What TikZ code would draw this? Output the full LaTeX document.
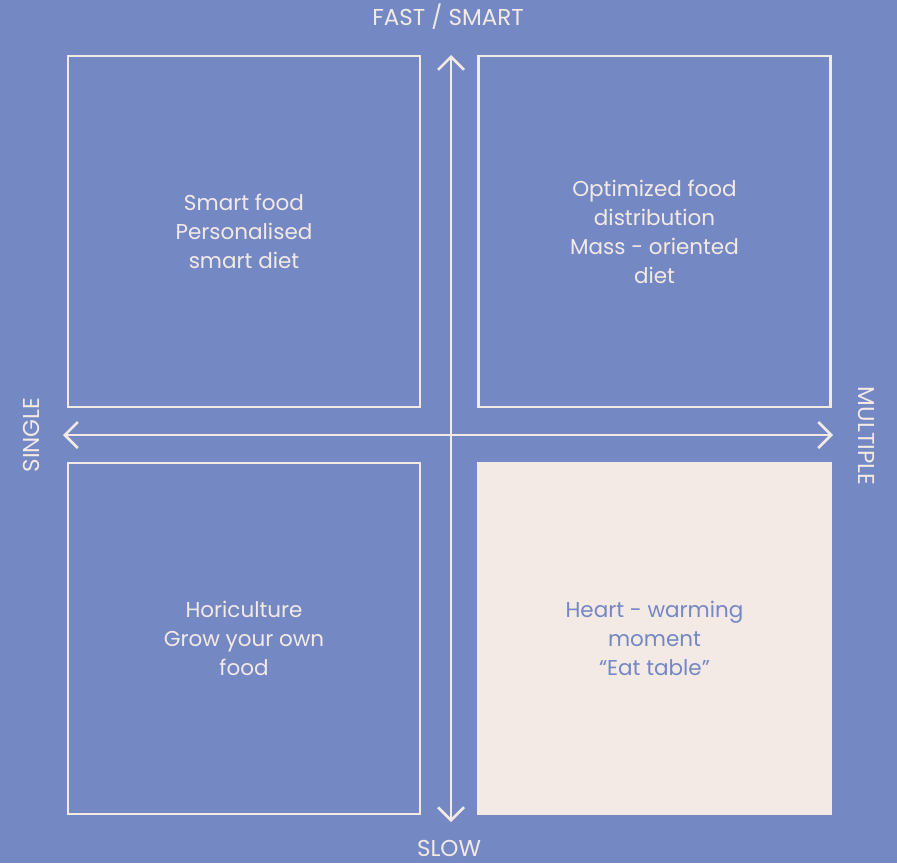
\documentclass[tikz,border=0pt]{standalone}
\usepackage{fontspec}
\setmainfont{Poppins}
\usetikzlibrary{arrows.meta}
\definecolor{bgblue}{HTML}{7488C3}
\definecolor{cream}{HTML}{F3EAE6}

\begin{document}
\begin{tikzpicture}[x=1pt,y=-1pt,line cap=round,
  >={Straight Barb[length=13pt,width=26pt,line width=2.5pt]},
  quad/.style={draw=cream,line width=2.6pt,minimum width=352pt,minimum height=351pt,
    inner sep=0pt,align=center,text=cream,font=\fontsize{21.5}{29}\selectfont},
  axlabel/.style={text=cream,font=\fontsize{23}{26}\selectfont,inner sep=0pt}]
\fill[bgblue] (0,0) rectangle (897,863);
\useasboundingbox (0,0) rectangle (897,863);
% quadrants
\node[quad] (tl) at (244,231.5) {Smart food\\Personalised\\smart diet};
\node[quad] (tr) at (654.5,231.5) {Optimized food\\distribution\\Mass - oriented\\diet};
\node[quad] (bl) at (244,638.5) {Horiculture\\Grow your own\\food};
\node[quad,fill=cream,text=bgblue] (br) at (654.5,638.5) {Heart - warming\\moment\\``Eat table''};
% axes
\coordinate (top) at (451,55);
\coordinate (bot) at (451,822);
\coordinate (lft) at (63,435);
\coordinate (rgt) at (833,435);
\draw[cream,line width=2.6pt,<->] (bot) -- (top);
\draw[cream,line width=2.6pt,<->] (lft) -- (rgt);
\node[axlabel] (fast) at (448,17) {FAST / SMART};
\node[axlabel] (slow) at (449,848.5) {SLOW};
\node[axlabel,rotate=90] (single) at (31,435) {SINGLE};
\node[axlabel,rotate=-90] (multi) at (866,436) {MULTIPLE};
\end{tikzpicture}
\end{document}
